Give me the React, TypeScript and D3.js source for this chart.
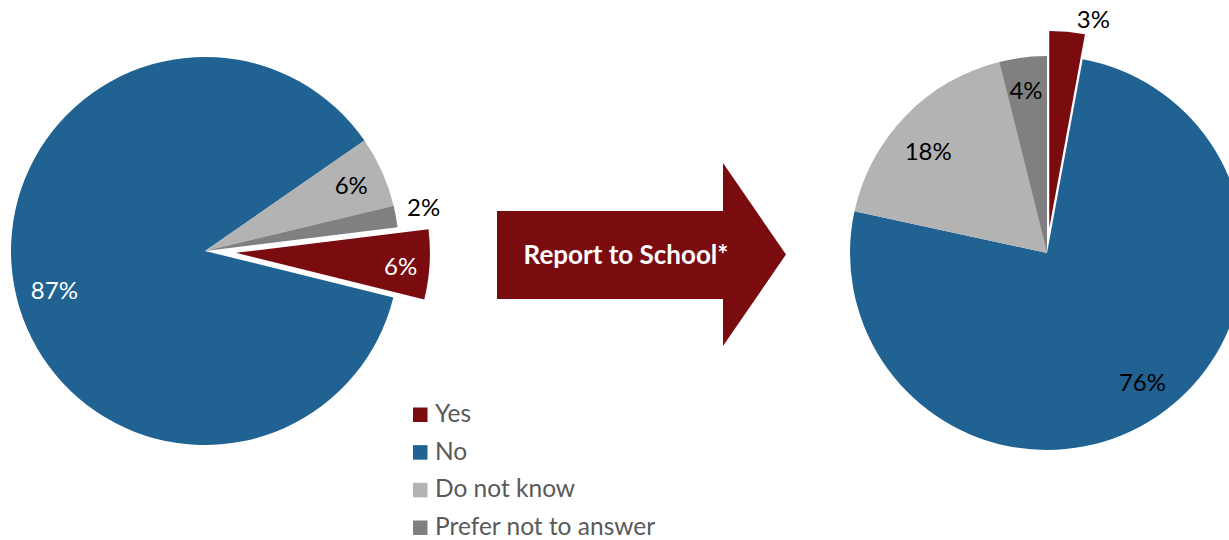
import React from "react";
import * as d3 from "d3";

const categories = ["Yes", "No", "Do not know", "Prefer not to answer"];
const beforeValues = [5.8, 86.5, 5.9, 1.8];
const afterValues = [2.9, 75.5, 17.7, 3.9];
const beforeLabels = ["6%", "87%", "6%", "2%"];
const afterLabels = ["3%", "76%", "18%", "4%"];
const arrowText = "Report to School*";

const colors = ["#7A0C10", "#206393", "#B3B3B3", "#808080"];
const FONT = "Lato, 'Open Sans', sans-serif";

type PieCfg = {
  values: number[];
  labels: string[];
  cx: number;
  cy: number;
  r: number;
  startDeg: number;
  explode: number;
  labelColors: string[];
  labelR: number[];
  labelShift: [number, number][];
};

function Pie({ cfg }: { cfg: PieCfg }) {
  const rad = (d: number) => (d * Math.PI) / 180;
  const pie = d3
    .pie<number>()
    .sort(null)
    .value((d) => d)
    .startAngle(rad(cfg.startDeg))
    .endAngle(rad(cfg.startDeg + 360));
  const arcs = pie(cfg.values);
  const arc = d3.arc<d3.PieArcDatum<number>>().innerRadius(0).outerRadius(cfg.r);
  return (
    <g transform={`translate(${cfg.cx},${cfg.cy})`}>
      {arcs.map((a, i) => {
        const mid = (a.startAngle + a.endAngle) / 2;
        const off = i === 0 ? cfg.explode : 0;
        const ox = Math.sin(mid) * off;
        const oy = -Math.cos(mid) * off;
        return (
          <path
            key={i}
            d={arc(a) || ""}
            transform={`translate(${ox},${oy})`}
            fill={colors[i]}
          />
        );
      })}
      {arcs.map((a, i) => {
        const mid = (a.startAngle + a.endAngle) / 2;
        const off = i === 0 ? cfg.explode : 0;
        const rr = cfg.r * cfg.labelR[i] + off;
        const x = Math.sin(mid) * rr + cfg.labelShift[i][0];
        const y = -Math.cos(mid) * rr + cfg.labelShift[i][1];
        return (
          <text
            key={"t" + i}
            x={x}
            y={y}
            textAnchor="middle"
            dominantBaseline="central"
            fontFamily={FONT}
            fontSize={24}
            fill={cfg.labelColors[i]}
          >
            {cfg.labels[i]}
          </text>
        );
      })}
    </g>
  );
}

export default function App() {
  const W = 1229;
  const H = 540;
  const left: PieCfg = {
    values: beforeValues,
    labels: beforeLabels,
    cx: 205,
    cy: 251,
    r: 194,
    startDeg: 83,
    explode: 31,
    labelColors: ["#ffffff", "#ffffff", "#000000", "#000000"],
    labelR: [0.83, 0.8, 0.82, 1.14],
    labelShift: [[4, 3], [2, 10], [1, -2], [1, -5]],
  };
  const right: PieCfg = {
    values: afterValues,
    labels: afterLabels,
    cx: 1047,
    cy: 253,
    r: 197,
    startDeg: 0,
    explode: 25,
    labelColors: ["#000000", "#000000", "#000000", "#000000"],
    labelR: [1.07, 0.81, 0.79, 0.83],
    labelShift: [[25, 0], [7, -4], [-7, 6], [-1, -1]],
  };

  // arrow geometry
  const ax0 = 497, ax1 = 723, axTip = 786;
  const ayTop = 163, ayBot = 346, ayMid = 254.5;
  const bodyTop = 211, bodyBot = 299;
  const arrowPath = d3.path();
  arrowPath.moveTo(ax0, bodyTop);
  arrowPath.lineTo(ax1, bodyTop);
  arrowPath.lineTo(ax1, ayTop);
  arrowPath.lineTo(axTip, ayMid);
  arrowPath.lineTo(ax1, ayBot);
  arrowPath.lineTo(ax1, bodyBot);
  arrowPath.lineTo(ax0, bodyBot);
  arrowPath.closePath();

  const legendY = d3.scaleLinear().domain([0, 3]).range([422, 535]);

  return (
    <svg
      width={W}
      height={H}
      style={{ position: "absolute", left: 0, top: 0, background: "#fff" }}
    >
      <rect width={W} height={H} fill="#fff" />
      <Pie cfg={left} />
      <Pie cfg={right} />
      <path d={arrowPath.toString()} fill="#7A0C10" />
      <text
        x={626}
        y={264}
        textAnchor="middle"
        fontFamily={FONT}
        fontWeight="bold"
        fontSize={26}
        fill="#ffffff"
      >
        {arrowText}
      </text>
      {categories.map((c, i) => (
        <g key={c}>
          <rect x={413} y={legendY(i) - 14.5} width={14.5} height={14.5} fill={colors[i]} />
          <text
            x={435}
            y={legendY(i)}
            fontFamily={FONT}
            fontSize={24.5}
            fill="#595959"
          >
            {c}
          </text>
        </g>
      ))}
    </svg>
  );
}
